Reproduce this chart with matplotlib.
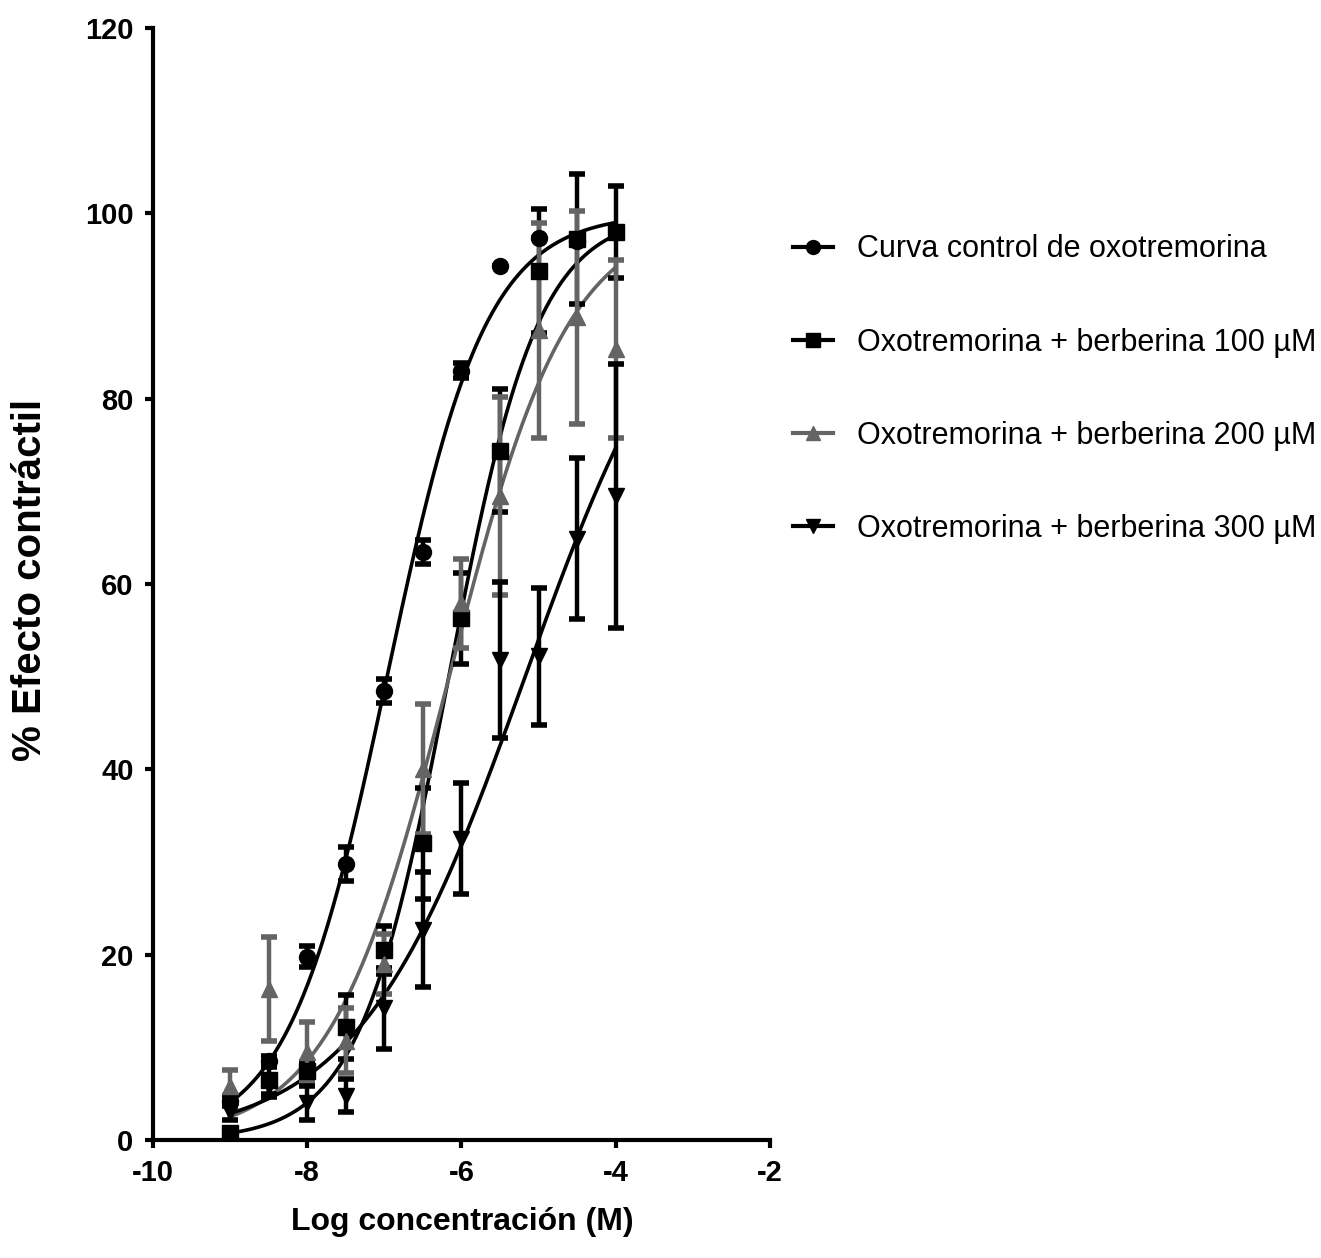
import numpy as np
import matplotlib
matplotlib.use('Agg')
from matplotlib import pyplot as plt
from matplotlib.lines import Line2D

plt.rcParams['axes.unicode_minus'] = False

# log concentration (M)
log_conc = [-9, -8.5, -8, -7.5, -7, -6.5, -6, -5.5, -5, -4.5, -4]

# Curva control de oxotremorina (no point at -4)
ctrl_x = [-9, -8.5, -8, -7.5, -7, -6.5, -6, -5.5, -5, -4.5]
ctrl_y = [4.2, 8.5, 19.8, 29.8, 48.5, 63.5, 83.0, 94.3, 97.3, 97.0]
ctrl_e = [0.5, 0.6, 1.1, 1.8, 1.3, 1.3, 0.8, 0.0, 0.0, 0.0]

# Oxotremorina + berberina 100 uM
b100_y = [0.8, 6.5, 7.4, 12.2, 20.5, 32.0, 56.3, 74.4, 93.8, 97.2, 98.0]
b100_e = [0.3, 1.5, 1.0, 3.5, 2.6, 6.0, 4.9, 6.6, 6.7, 7.0, 5.0]

# Oxotremorina + berberina 200 uM
b200_y = [5.8, 16.3, 9.5, 10.7, 19.0, 40.0, 57.9, 69.5, 87.4, 88.8, 85.4]
b200_e = [1.8, 5.6, 3.2, 3.5, 3.2, 7.0, 4.8, 10.7, 11.6, 11.5, 9.6]

# Oxotremorina + berberina 300 uM
b300_y = [3.0, 5.8, 4.0, 4.8, 14.2, 22.7, 32.5, 51.8, 52.2, 64.9, 69.5]
b300_e = [0.8, 1.2, 1.8, 1.8, 4.4, 6.2, 6.0, 8.4, 7.4, 8.7, 14.2]

labels = ['Curva control de oxotremorina',
          'Oxotremorina + berberina 100 \u00b5M',
          'Oxotremorina + berberina 200 \u00b5M',
          'Oxotremorina + berberina 300 \u00b5M']

GRAY = '#646464'
FONT = ['Liberation Sans Narrow', 'Liberation Sans', 'DejaVu Sans']

# sigmoid fit constrained to bottom = 0 and top = 100
BOTTOM, TOP = 0.0, 100.0


def fit_sigmoid(x, y):
    x = np.asarray(x, float)
    y = np.asarray(y, float)
    lec = np.arange(-9.5, -3.0, 0.005)
    hill = np.arange(0.2, 2.5, 0.005)
    L, H = np.meshgrid(lec, hill, indexing='ij')
    pred = BOTTOM + (TOP - BOTTOM) / (1 + 10 ** ((L[..., None] - x) * H[..., None]))
    res = ((pred - y) ** 2).sum(-1)
    i = np.unravel_index(np.argmin(res), res.shape)
    return L[i], H[i]


def curve(p, xs):
    lec, h = p
    return BOTTOM + (TOP - BOTTOM) / (1 + 10 ** ((lec - xs) * h))


fig = plt.figure(figsize=(13.21, 12.58), dpi=100)
ax = fig.add_axes([0.1158, 0.0938, 0.4671, 0.8839])

xs = np.linspace(-9, -4, 300)
series = [
    (ctrl_x, ctrl_y, ctrl_e, 'o', 'black'),
    (log_conc, b100_y, b100_e, 's', 'black'),
    (log_conc, b200_y, b200_e, '^', GRAY),
    (log_conc, b300_y, b300_e, 'v', 'black'),
]

for x, y, e, m, c in series:
    p = fit_sigmoid(x, y)
    ax.plot(xs, curve(p, xs), color=c, lw=2.6, zorder=2)
    ax.errorbar(x, y, yerr=e, fmt=m, color=c, ms=11.5, elinewidth=3.2,
                capsize=6, capthick=4, zorder=3)

ax.set_xlim(-10, -2)
ax.set_ylim(0, 120)
ax.set_xticks([-10, -8, -6, -4, -2])
ax.set_yticks([0, 20, 40, 60, 80, 100, 120])
for s in ['top', 'right']:
    ax.spines[s].set_visible(False)
for s in ['left', 'bottom']:
    ax.spines[s].set_linewidth(3)
ax.tick_params(width=3, length=6, pad=8)
for t in ax.get_xticklabels() + ax.get_yticklabels():
    t.set_family(FONT)
    t.set_fontweight('bold')
    t.set_fontsize(21)

fig.text(462 / 1321, 1 - 1222 / 1258, 'Log concentraci\u00f3n (M)',
         family=FONT, fontweight='bold', fontsize=23,
         ha='center', va='center')
fig.text(30 / 1321, 1 - 580 / 1258, '% Efecto contr\u00e1ctil',
         family=['Liberation Sans', 'DejaVu Sans'], fontweight='bold',
         fontsize=29, rotation=90, ha='center', va='center')

handles = [Line2D([], [], color=c, marker=m, ms=10, lw=3)
           for _, _, _, m, c in series]
fig.legend(handles, labels, loc='upper left',
           bbox_to_anchor=(778 / 1321, 1 - 219 / 1258),
           frameon=False, borderpad=0, handlelength=1.3,
           handletextpad=0.8, labelspacing=2.07,
           prop={'family': FONT, 'size': 22})

fig.savefig('out.png', dpi=100)
